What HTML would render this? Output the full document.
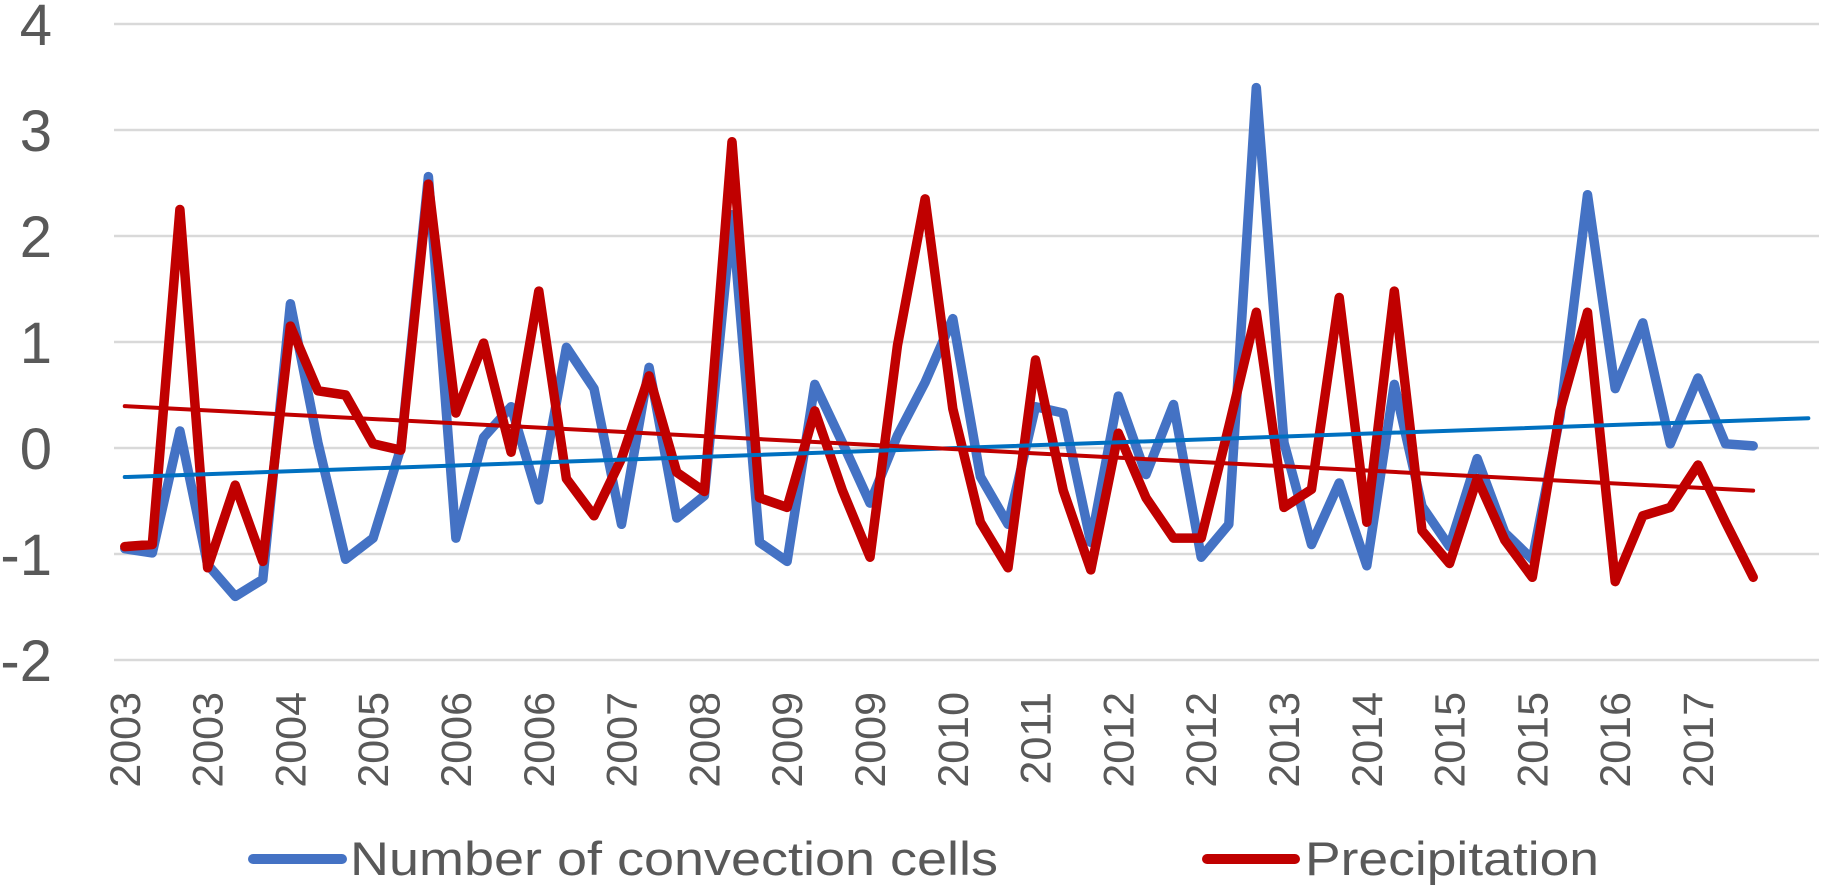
<!DOCTYPE html>
<html><head><meta charset="utf-8"><style>
html,body{margin:0;padding:0;background:#fff;}
svg{display:block;font-family:"Liberation Sans",sans-serif;}
</style></head><body>
<svg id="chart" width="1821" height="886" viewBox="0 0 1821 886" xmlns="http://www.w3.org/2000/svg">
<g id="grid"></g>
<g id="yaxis"></g>
<g id="xaxis"></g>
<g id="series"></g>
<g>
  <line x1="253" y1="859" x2="342" y2="859" stroke="#4472C4" stroke-width="10" stroke-linecap="round"/>
  <text x="350" y="875" font-size="47" fill="#595959" textLength="648" lengthAdjust="spacingAndGlyphs">Number of convection cells</text>
  <line x1="1207" y1="859" x2="1295" y2="859" stroke="#C00000" stroke-width="10" stroke-linecap="round"/>
  <text x="1305" y="875" font-size="47" fill="#595959" textLength="294" lengthAdjust="spacingAndGlyphs">Precipitation</text>
</g>
</svg>
<script>
const yTicks = [4, 3, 2, 1, 0, -1, -2];
const xTickLabels = ["2003","2003","2004","2005","2006","2006","2007","2008","2009","2009","2010","2011","2012","2012","2013","2014","2015","2015","2016","2017"];
const convection = [-0.95,-0.99,0.16,-1.1,-1.4,-1.24,1.36,0.05,-1.05,-0.85,0.0,2.56,-0.85,0.1,0.39,-0.49,
  0.95,0.56,-0.72,0.76,-0.66,-0.45,2.2,-0.89,-1.07,0.6,0.05,-0.52,0.12,0.62,1.22,
  -0.27,-0.72,0.39,0.33,-0.89,0.49,-0.25,0.41,-1.03,-0.72,3.4,0.05,-0.91,-0.33,-1.11,0.6,
  -0.55,-0.93,-0.1,-0.8,-1.05,0.3,2.39,0.56,1.18,0.04,0.66,0.04,0.02];
const precipitation = [-0.93,-0.91,2.25,-1.13,-0.35,-1.07,1.15,0.54,0.5,0.04,-0.02,2.49,0.33,0.99,-0.04,1.48,
  -0.29,-0.64,-0.1,0.68,-0.23,-0.41,2.89,-0.47,-0.56,0.35,-0.4,-1.03,0.97,2.35,0.37,
  -0.7,-1.13,0.83,-0.4,-1.15,0.14,-0.47,-0.85,-0.85,0.2,1.28,-0.56,-0.39,1.42,-0.7,1.48,
  -0.78,-1.09,-0.29,-0.87,-1.22,0.35,1.28,-1.26,-0.64,-0.56,-0.16,-0.7,-1.22];
const nCategories = 62;
const convectionTrendExtend = 2;

const NS = "http://www.w3.org/2000/svg";
const plotLeft = 114, plotRight = 1819;
const yTop = 24, yBottom = 660, yMax = 4, yMin = -2;
const step = (plotRight - plotLeft) / nCategories;
function xPos(i){ return plotLeft + step * (i + 0.5) - 3 + i * 0.1; }
function yPos(v){ return yTop + (yMax - v) / (yMax - yMin) * (yBottom - yTop); }
function mk(tag, attrs, parent){ const e = document.createElementNS(NS, tag); for (const k in attrs) e.setAttribute(k, attrs[k]); parent.appendChild(e); return e; }

const grid = document.getElementById('grid');
const yaxis = document.getElementById('yaxis');
yTicks.forEach(v => {
  const l = mk('line', {x1: plotLeft, x2: plotRight, y1: yPos(v), y2: yPos(v), stroke: '#d9d9d9', 'stroke-width': 2.5}, grid);
  
  
  const t = mk('text', {x: 52, y: yPos(v) + 21, 'text-anchor': 'end', 'font-size': 58, fill: '#595959'}, yaxis);
  t.textContent = String(v);
  
  
});

const xaxis = document.getElementById('xaxis');
xTickLabels.forEach((lab, k) => {
  const x = xPos(k * 3);
  const t = mk('text', {x: 0, y: 0, 'text-anchor': 'end', 'font-size': 43, fill: '#595959', transform: `translate(${x + 15},692) rotate(-90)`}, xaxis);
  t.textContent = lab;
  
  
});

const series = document.getElementById('series');
function drawLine(vals, color, name){
  const pts = vals.map((v, i) => xPos(i).toFixed(1) + ',' + yPos(v).toFixed(1)).join(' ');
  const p = mk('polyline', {points: pts, fill: 'none', stroke: color, 'stroke-width': 9.5, 'stroke-linejoin': 'round', 'stroke-linecap': 'round'}, series);
  
  
}
function trend(vals, color, name, extend){
  const n = vals.length;
  let sx = 0, sy = 0, sxx = 0, sxy = 0;
  vals.forEach((v, i) => { sx += i; sy += v; sxx += i * i; sxy += i * v; });
  const b = (n * sxy - sx * sy) / (n * sxx - sx * sx);
  const a = (sy - b * sx) / n;
  const i2 = n - 1 + extend;
  const l = mk('line', {x1: xPos(0), y1: yPos(a), x2: xPos(i2), y2: yPos(a + b * i2), stroke: color, 'stroke-width': 4, 'stroke-linecap': 'round'}, series);
  
  
}
drawLine(convection, '#4472C4', 'convection-cells-line');
drawLine(precipitation, '#C00000', 'precipitation-line');
trend(convection, '#0070C0', 'convection-trendline', convectionTrendExtend);
trend(precipitation, '#C00000', 'precipitation-trendline', 0);
</script>
</body></html>
